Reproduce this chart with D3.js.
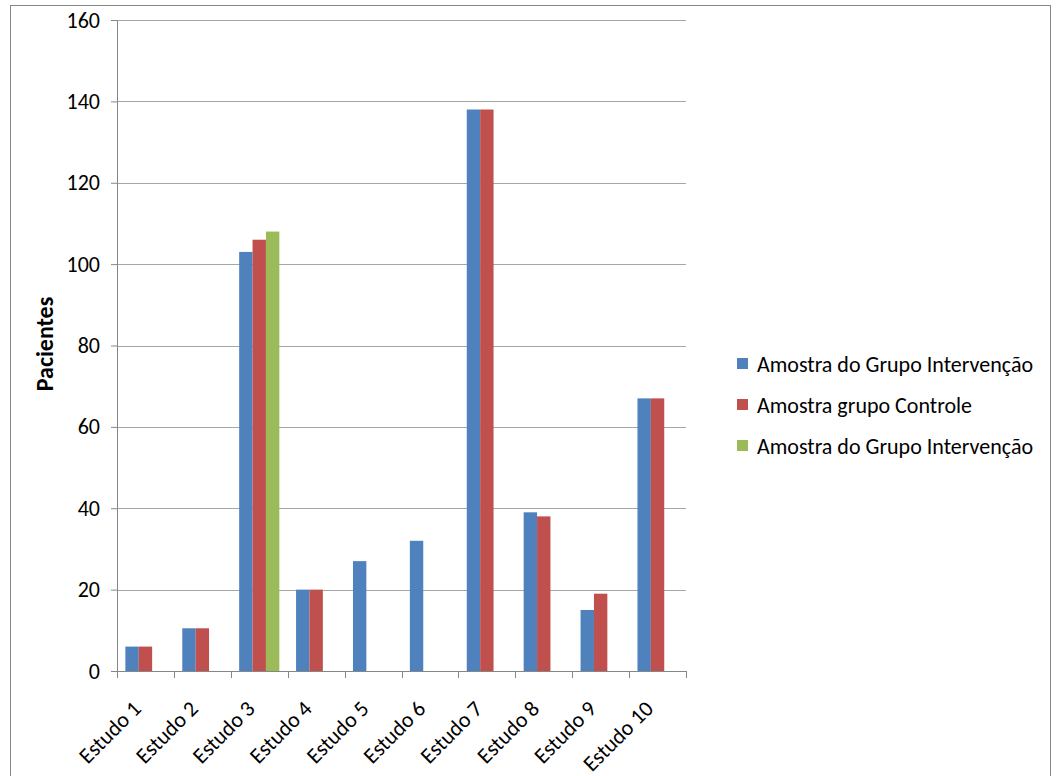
<!DOCTYPE html>
<html>
<head>
<meta charset="utf-8">
<script src="https://cdn.jsdelivr.net/npm/d3@7"></script>
<style>
  body { margin: 0; background: #fff; }
  svg { font-family: Carlito, Lato, "Liberation Sans", sans-serif; }
</style>
</head>
<body>
<div id="chart"></div>
<script>
// data
const categories = ['Estudo 1', 'Estudo 2', 'Estudo 3', 'Estudo 4', 'Estudo 5',
  'Estudo 6', 'Estudo 7', 'Estudo 8', 'Estudo 9', 'Estudo 10'];
const seriesNames = ['Amostra do Grupo Intervenção', 'Amostra grupo Controle', 'Amostra do Grupo Intervenção'];
const intervencao = [6, 10.5, 103, 20, 27, 32, 138, 39, 15, 67];
const controle = [6, 10.5, 106, 20, null, null, 138, 38, 19, 67];
const intervencao2 = [null, null, 108, null, null, null, null, null, null, null];
const yTicks = [0, 20, 40, 60, 80, 100, 120, 140, 160];
const colors = ['#4F81BD', '#C0504D', '#9BBB59'];

const seriesValues = [intervencao, controle, intervencao2];

const width = 1056, height = 776;
const margin = { top: 20, left: 117 };
const plotW = 686 - margin.left;
const plotH = 671 - margin.top;
const font = 'Carlito, Lato, "Liberation Sans", sans-serif';

const svg = d3.select('#chart')
  .append('svg')
  .attr('width', width)
  .attr('height', height);

// chart frame
svg.append('rect')
  .attr('x', 10.5).attr('y', 5.5)
  .attr('width', 1040).attr('height', 790)
  .attr('fill', 'none')
  .attr('stroke', '#868686');

const g = svg.append('g')
  .attr('transform', `translate(${margin.left}, ${margin.top})`);

const x0 = d3.scaleBand()
  .domain(categories)
  .range([0, plotW]);

// Excel-style gap: bars take band / (3 + gap)
const gap = 1.25;
const barW = x0.bandwidth() / (seriesNames.length + gap);
const x1 = d3.scaleBand()
  .domain(d3.range(seriesNames.length))
  .range([barW * gap / 2, x0.bandwidth() - barW * gap / 2]);

const y = d3.scaleLinear()
  .domain([0, 160])
  .range([plotH, 0]);

// gridlines
g.append('g')
  .selectAll('line')
  .data(yTicks.slice(1))
  .join('line')
  .attr('x1', 0).attr('x2', plotW)
  .attr('y1', d => Math.round(y(d)) + 0.5)
  .attr('y2', d => Math.round(y(d)) + 0.5)
  .attr('stroke', '#a6a6a6')
  .attr('stroke-width', 1);

// bars
const rows = [];
seriesValues.forEach((vals, si) => {
  vals.forEach((v, ci) => {
    if (v != null) rows.push({ s: si, c: categories[ci], v });
  });
});

g.append('g')
  .selectAll('rect')
  .data(rows)
  .join('rect')
  .attr('x', d => x0(d.c) + x1(d.s))
  .attr('width', x1.bandwidth())
  .attr('y', d => y(d.v))
  .attr('height', d => y(0) - y(d.v))
  .attr('fill', d => colors[d.s]);

// y axis
const yAxis = g.append('g')
  .call(d3.axisLeft(y).tickValues(yTicks).tickSize(6).tickPadding(11).tickFormat(d3.format('d')));
yAxis.attr('font-family', font).attr('font-size', 22);
yAxis.select('.domain').attr('stroke', '#868686');
yAxis.selectAll('.tick line').attr('stroke', '#868686');
yAxis.selectAll('text').attr('fill', '#000');

// x axis: ticks on category boundaries
const xAxisG = g.append('g')
  .attr('transform', `translate(0, ${plotH})`);
xAxisG.append('line')
  .attr('x1', 0).attr('x2', plotW)
  .attr('y1', 0.5).attr('y2', 0.5)
  .attr('stroke', '#868686');
xAxisG.selectAll('line.tk')
  .data(d3.range(categories.length + 1))
  .join('line')
  .attr('class', 'tk')
  .attr('x1', i => Math.round(i * x0.step()) + 0.5)
  .attr('x2', i => Math.round(i * x0.step()) + 0.5)
  .attr('y1', 0).attr('y2', 7)
  .attr('stroke', '#868686');
xAxisG.selectAll('text')
  .data(categories)
  .join('text')
  .attr('transform', d => `translate(${x0(d) + x0.bandwidth() / 2 - 3}, 39) rotate(-45)`)
  .attr('text-anchor', 'end')
  .attr('font-size', 22)
  .text(d => d);

// y axis title
svg.append('text')
  .attr('transform', `translate(53, 344) rotate(-90)`)
  .attr('text-anchor', 'middle')
  .attr('font-size', 24)
  .attr('font-weight', 'bold')
  .text('Pacientes');

// legend
const legend = svg.append('g')
  .attr('transform', 'translate(737, 364)');
const items = legend.selectAll('g')
  .data(seriesNames)
  .join('g')
  .attr('transform', (d, i) => `translate(0, ${i * 41})`);
items.append('rect')
  .attr('x', 0).attr('y', -6)
  .attr('width', 11).attr('height', 11)
  .attr('fill', (d, i) => colors[i]);
items.append('text')
  .attr('x', 20)
  .attr('dy', '0.35em')
  .attr('font-size', 22)
  .text(d => d);
</script>
</body>
</html>
